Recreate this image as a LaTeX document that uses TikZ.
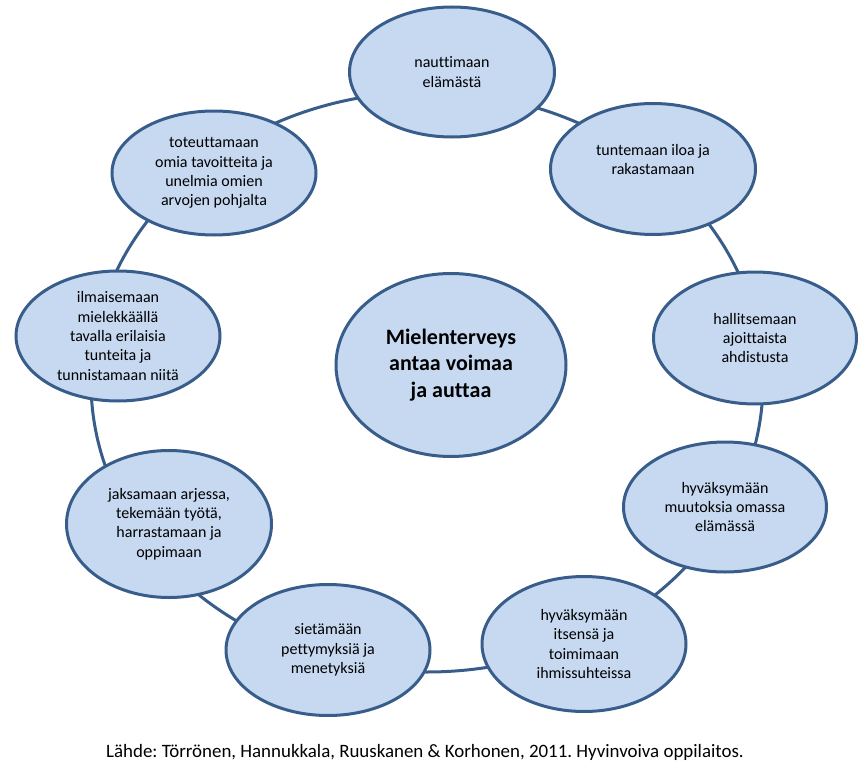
\documentclass[tikz,border=0pt]{standalone}
\usepackage{fontspec}
\setmainfont{Carlito}[Ligatures=NoCommon]
\usetikzlibrary{shapes.geometric}
\definecolor{ringblue}{HTML}{385D8A}
\definecolor{bubfill}{HTML}{C6D9F1}
\frenchspacing
\begin{document}
\begin{tikzpicture}[x=1pt,y=-1pt,line width=3pt,
 bub/.style={ellipse,draw=ringblue,fill=bubfill,inner sep=0pt,align=center,font=\fontsize{16}{19.3}\selectfont}]
\useasboundingbox (0,0) rectangle (865,768);
\draw[ringblue] (427,382) coordinate(O) ellipse [x radius=336,y radius=290];
\foreach \n/\px/\py/\w/\h/\t in {A/452/72/205/130/{nauttimaan\\elämästä},
 B/653/169/205/131/{tuntemaan iloa ja\\rakastamaan\\~}, C/755/338/203/132/{hallitsemaan\\ajoittaista\\ahdistusta},
 D/725/507/203/130/{hyväksymään\\muutoksia omassa\\elämässä}, E/584/644/204/135/{hyväksymään\\itsensä ja\\toimimaan\\ihmissuhteissa},
 F/328/650/204/131/{sietämään\\pettymyksiä ja\\menetyksiä}, G/169/524/205/147/{jaksamaan arjessa,\\tekemään työtä,\\harrastamaan ja\\oppimaan},
 H/118/336/204/130/{ilmaisemaan\\mielekkäällä\\tavalla erilaisia\\tunteita ja\\tunnistamaan niitä}, I/214/173/204/124/{toteuttamaan\\omia tavoitteita ja\\unelmia omien\\arvojen pohjalta}}
 \node[bub,minimum width=\w,minimum height=\h] (\n) at (\px,\py) {\t};
\node[bub,minimum width=230,minimum height=183,font=\fontsize{22}{26.5}\selectfont\bfseries] (M) at (451,365) {Mielenterveys\\antaa voimaa\\ja auttaa};
\node[font=\fontsize{18.9}{22}\selectfont] (src) at (425,752) {Lähde: Törrönen, Hannukkala, Ruuskanen \& Korhonen, 2011. Hyvinvoiva oppilaitos.};
\end{tikzpicture}
\end{document}
